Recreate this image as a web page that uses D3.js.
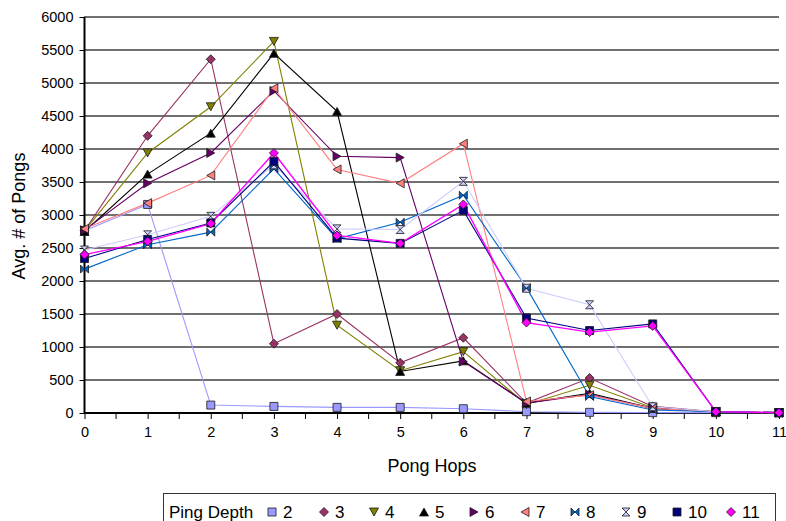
<!DOCTYPE html>
<html><head><meta charset="utf-8">
<script src="https://cdn.jsdelivr.net/npm/d3@7"></script>
<style>
html,body{margin:0;padding:0;background:#fff;}
svg{display:block;font-family:"Liberation Sans",Arial,sans-serif;}
</style></head>
<body><svg id="c" width="786" height="521"></svg>
<script>
const hops = [0,1,2,3,4,5,6,7,8,9,10,11];
const seriesNames = ["2","3","4","5","6","7","8","9","10","11"];
const s2  = [2760,3160,120,100,85,85,65,20,10,5,5,5];
const s3  = [2760,4200,5360,1050,1500,760,1140,150,530,100,20,5];
const s4  = [2760,3940,4640,5630,1330,640,930,130,420,80,20,5];
const s5  = [2750,3620,4240,5450,4570,630,790,150,300,70,20,5];
const s6  = [2770,3480,3940,4880,3890,3870,780,150,280,70,20,5];
const s7  = [2790,3180,3600,4920,3690,3480,4080,175,270,70,20,5];
const s8  = [2180,2550,2740,3700,2640,2890,3300,1900,250,45,20,5];
const s9  = [2470,2700,2980,3760,2790,2780,3510,1890,1640,95,20,5];
const s10 = [2340,2630,2880,3810,2650,2570,3070,1440,1250,1350,20,5];
const s11 = [2400,2600,2870,3940,2690,2570,3160,1370,1225,1320,20,5];
const yTicks = [0,500,1000,1500,2000,2500,3000,3500,4000,4500,5000,5500,6000];
const xTicks = [0,1,2,3,4,5,6,7,8,9,10,11];

const values = [s2,s3,s4,s5,s6,s7,s8,s9,s10,s11];
const colors = ["#9999FF","#993366","#808000","#000000","#660066","#FF8080","#0066CC","#CCCCFF","#000080","#FF00FF"];
const shapes = ["square","diamond","down","up","right","left","bowtie","hourglass","square","diamond"];

const svg = d3.select("#c");
const x = d3.scaleLinear().domain([0,11]).range([84.5,779]);
const y = d3.scaleLinear().domain([0,6000]).range([413,17]);

// gridlines
svg.append("g").selectAll("line").data(yTicks.filter(d=>d>0)).join("line")
  .attr("x1",84).attr("x2",779).attr("y1",d=>y(d)).attr("y2",d=>y(d))
  .attr("stroke","#707070").attr("stroke-width",2);

// y axis
const yAxis = d3.axisLeft(y).tickValues(yTicks).tickSize(5).tickPadding(6).tickFormat(d3.format("d"));
const gy = svg.append("g").attr("transform","translate(84.5,0)").call(yAxis);
gy.select(".domain").attr("stroke","#000").attr("stroke-width",2).attr("d","M0,17V413");
gy.selectAll(".tick line").attr("stroke","#000").attr("stroke-width",1);
gy.selectAll(".tick text").attr("font-size",14.5).attr("fill","#000").attr("font-family","Liberation Sans, Arial, sans-serif");

// x axis
const xAxis = d3.axisBottom(x).tickValues(xTicks).tickSize(6).tickPadding(8).tickFormat(d3.format("d"));
const gx = svg.append("g").attr("transform","translate(0,413)").call(xAxis);
gx.select(".domain").attr("stroke","#000").attr("stroke-width",2).attr("d","M84,0H779");
gx.selectAll(".tick line").attr("stroke","#000");
gx.selectAll(".tick text").attr("font-size",14.5).attr("fill","#000").attr("font-family","Liberation Sans, Arial, sans-serif");
// minor ticks
svg.append("g").selectAll("line").data(d3.range(0.5,11,1)).join("line")
  .attr("x1",d=>x(d)).attr("x2",d=>x(d)).attr("y1",413).attr("y2",419).attr("stroke","#000");

// titles
svg.append("text").attr("x",432).attr("y",472).attr("text-anchor","middle").attr("font-size",18).text("Pong Hops");
svg.append("text").attr("transform","translate(25,216) rotate(-90)").attr("text-anchor","middle").attr("font-size",18).text("Avg. # of Pongs");

function shapePath(s, r){
  switch(s){
    case "square": return `M${-r},${-r}H${r}V${r}H${-r}Z`;
    case "diamond": return `M0,${-r-0.5}L${r+0.5},0L0,${r+0.5}L${-r-0.5},0Z`;
    case "down": return `M${-r-0.5},${-r}H${r+0.5}L0,${r}Z`;
    case "up": return `M${-r-0.5},${r}H${r+0.5}L0,${-r}Z`;
    case "right": return `M${-r},${-r-0.5}V${r+0.5}L${r},0Z`;
    case "left": return `M${r},${-r-0.5}V${r+0.5}L${-r},0Z`;
    case "bowtie": return `M${-r},${-r}L${r},${r}V${-r}L${-r},${r}Z`;
    case "hourglass": return `M${-r},${-r}H${r}L${-r},${r}H${r}Z`;
  }
}

const line = d3.line().x((d,i)=>x(hops[i])).y(d=>y(d));
values.forEach((vals,k)=>{
  svg.append("path").datum(vals).attr("d",line).attr("fill","none")
    .attr("stroke",colors[k]).attr("stroke-width",k===9?1.4:1.1);
});
values.forEach((vals,k)=>{
  svg.append("g").selectAll("path").data(vals).join("path")
    .attr("transform",(d,i)=>`translate(${x(hops[i])},${y(d)})`)
    .attr("d",shapePath(shapes[k],4))
    .attr("fill",colors[k]).attr("stroke","#1a1a1a").attr("stroke-width",0.8);
});

// legend
const lg = svg.append("g");
lg.append("rect").attr("x",163.5).attr("y",493.5).attr("width",612).attr("height",40)
  .attr("fill","#fff").attr("stroke","#333").attr("stroke-width",1);
lg.append("text").attr("x",169).attr("y",518).attr("font-size",17).text("Ping Depth");
const legX = [272,324,374,424,474,525,575,626,677,731];
seriesNames.forEach((nm,k)=>{
  lg.append("path").attr("transform",`translate(${legX[k]},512)`).attr("d",shapePath(shapes[k],4))
    .attr("fill",colors[k]).attr("stroke","#1a1a1a").attr("stroke-width",0.8);
  lg.append("text").attr("x",legX[k]+11).attr("y",518).attr("font-size",17).text(nm);
});
</script>
</body></html>
